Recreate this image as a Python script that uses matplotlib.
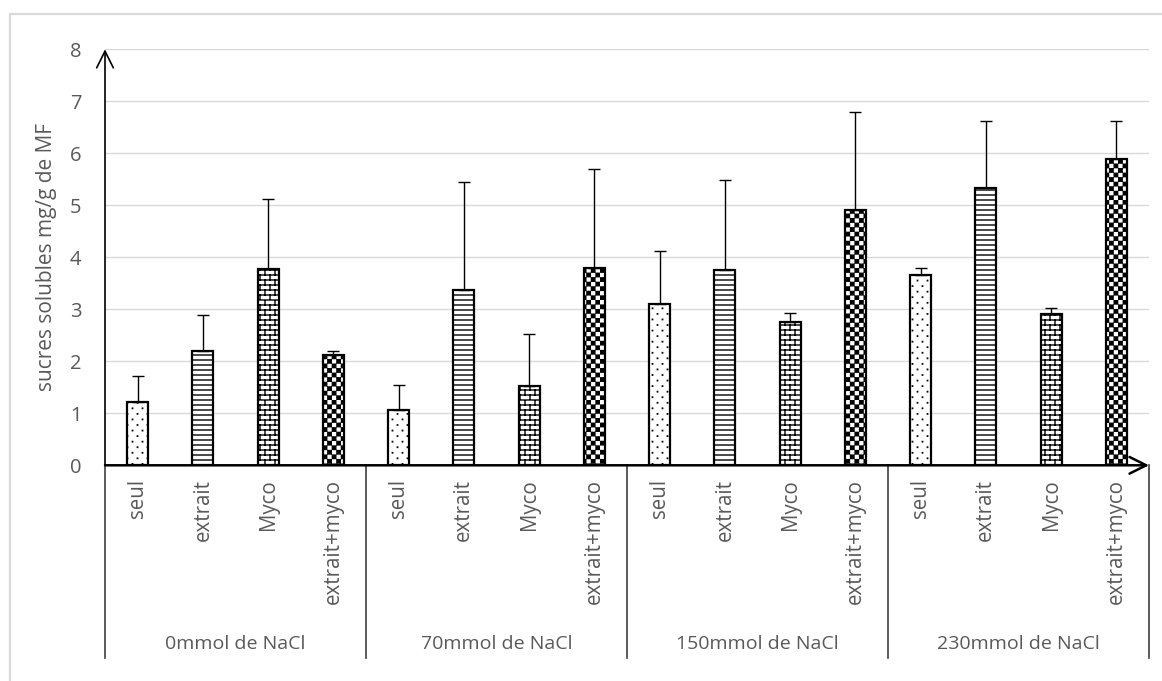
import numpy as np
import matplotlib
matplotlib.use('Agg')
import matplotlib.pyplot as plt
import matplotlib.hatch as mhatch
import matplotlib.transforms as mtrans
from matplotlib.path import Path
from matplotlib.patches import Rectangle

# --- data ---
groups = ['0mmol de NaCl', '70mmol de NaCl', '150mmol de NaCl', '230mmol de NaCl']
treatments = ['seul', 'extrait', 'Myco', 'extrait+myco']
means = {
    'seul':         [1.22, 1.06, 3.10, 3.66],
    'extrait':      [2.20, 3.37, 3.76, 5.33],
    'Myco':         [3.77, 1.52, 2.76, 2.91],
    'extrait+myco': [2.13, 3.80, 4.91, 5.89],
}
sd = {
    'seul':         [0.49, 0.49, 1.02, 0.14],
    'extrait':      [0.70, 2.08, 1.73, 1.29],
    'Myco':         [1.35, 1.00, 0.16, 0.12],
    'extrait+myco': [0.07, 1.90, 1.88, 0.73],
}
ylabel = 'sucres solubles mg/g de MF'
yticks = [0, 1, 2, 3, 4, 5, 6, 7, 8]


# --- custom hatch patterns (one hatch tile = 100 px at dpi 100) ---
def _squares(cells, size):
    verts, codes = [], []
    for cx, cy in cells:
        h = size / 2
        verts += [(cx - h, cy - h), (cx + h, cy - h), (cx + h, cy + h), (cx - h, cy + h), (cx - h, cy - h)]
        codes += [Path.MOVETO, Path.LINETO, Path.LINETO, Path.LINETO, Path.CLOSEPOLY]
    return verts, codes


class _Pattern:
    char = None

    def __init__(self, hatch, density):
        self.verts, self.codes = ([], [])
        if self.char in hatch:
            self.verts, self.codes = self.build()
        self.num_vertices = len(self.verts)

    def set_vertices_and_codes(self, vertices, codes):
        vertices[:] = self.verts
        codes[:] = self.codes


class DotHatch(_Pattern):
    char = '.'

    def build(self):
        rows, cols = 18, 10
        cells = []
        for r in range(rows):
            off = 0.5 if r % 2 else 0.0
            for c in range(cols):
                cells.append(((c + off + 0.25) / cols, (r + 0.5) / rows))
        return _squares(cells, 0.004)


class LineHatch(_Pattern):
    char = '-'

    def build(self):
        n = 20
        verts, codes = [], []
        for i in range(n + 1):
            y = i / n
            verts += [(0, y), (1, y)]
            codes += [Path.MOVETO, Path.LINETO]
        return verts, codes


class BrickHatch(_Pattern):
    char = '+'

    def build(self):
        rows, cols = 20, 10
        verts, codes = [], []
        for r in range(rows + 1):
            y = r / rows
            verts += [(0, y), (1, y)]
            codes += [Path.MOVETO, Path.LINETO]
        for r in range(rows):
            off = 0.5 if r % 2 else 0.0
            for c in range(cols):
                x = (c + off) / cols
                verts += [(x, r / rows), (x, (r + 1) / rows)]
                codes += [Path.MOVETO, Path.LINETO]
        return verts, codes


class CheckerHatch(_Pattern):
    char = '*'

    def build(self):
        n = 22
        cells = [((i + 0.5) / n, (j + 0.5) / n) for i in range(n) for j in range(n) if (i + j) % 2 == 0]
        return _squares(cells, 1.0 / n - 0.011)


mhatch._hatch_types = [DotHatch, LineHatch, BrickHatch, CheckerHatch]

hatches = {'seul': '.', 'extrait': '-', 'Myco': '+', 'extrait+myco': '*'}

plt.rcParams['font.family'] = ['Open Sans', 'DejaVu Sans']
plt.rcParams['hatch.linewidth'] = 1.0
plt.rcParams['hatch.color'] = 'black'

W, H = 1162, 681
fig = plt.figure(figsize=(W / 100, H / 100), dpi=100)
ax = fig.add_axes([105 / W, (H - 465.3) / H, (1149 - 105) / W, (465.3 - 49.3) / H])

gray = '#595959'
nt = len(treatments)
bar_w = 0.32

for j, t in enumerate(treatments):
    x = np.arange(len(groups)) * nt + j + 0.5
    ax.bar(x, means[t], width=bar_w, color='white', edgecolor='black',
           linewidth=1.6, hatch=hatches[t], zorder=3)
    ax.errorbar(x, means[t], yerr=[np.zeros(len(groups)), sd[t]], fmt='none',
                ecolor='black', elinewidth=1.0, capsize=4.5, capthick=1.0, zorder=4)

ax.set_xlim(0, len(groups) * nt)
ax.set_ylim(0, 8)
ax.set_yticks(yticks)
ax.set_yticklabels([str(v) for v in yticks])
ax.tick_params(axis='y', length=0, pad=17, labelsize=14.5, labelcolor=gray)
ax.set_xticks([])
ax.grid(axis='y', color='#d9d9d9', linewidth=1.0, zorder=0)
for s in ['top', 'right', 'left', 'bottom']:
    ax.spines[s].set_visible(False)

# axes with arrow heads
ax.annotate('', xy=(0, 8), xytext=(0, 0), xycoords='data', annotation_clip=False,
            arrowprops=dict(arrowstyle='->,head_length=1.2,head_width=0.6', lw=1.2,
                            color='black', shrinkA=0, shrinkB=0), zorder=5)
ax.annotate('', xy=(len(groups) * nt, 0), xytext=(0, 0), xycoords='data', annotation_clip=False,
            arrowprops=dict(arrowstyle='->,head_length=1.2,head_width=0.6', lw=1.8,
                            color='black', shrinkA=0, shrinkB=0), zorder=5)

# category table below the axis
trans = mtrans.blended_transform_factory(ax.transData, fig.transFigure)
y_top, y_bot = (H - 465.3) / H, (H - 658) / H
for g in range(len(groups) + 1):
    ax.plot([g * nt, g * nt], [y_top, y_bot], transform=trans, color='#404040',
            linewidth=1.2, clip_on=False)
for g, gname in enumerate(groups):
    for j, t in enumerate(treatments):
        ax.text(g * nt + j + 0.5, (H - 479) / H, t, transform=trans, rotation=90,
                ha='center', va='top', fontsize=14.8, color=gray)
    ax.text(g * nt + nt / 2, (H - 644) / H, gname, transform=trans,
            ha='center', va='center', fontsize=14, color=gray)

fig.text(47 / W, (H - 257) / H, ylabel, rotation=90, ha='center', va='center',
         fontsize=15, color=gray)

# light frame around the chart area
fig.patches.append(Rectangle((10 / W, -0.1), 1.2, (H - 14) / H + 0.1, transform=fig.transFigure,
                             fill=False, edgecolor='#d9d9d9', linewidth=1.6))

fig.savefig('out.png', dpi=100)
